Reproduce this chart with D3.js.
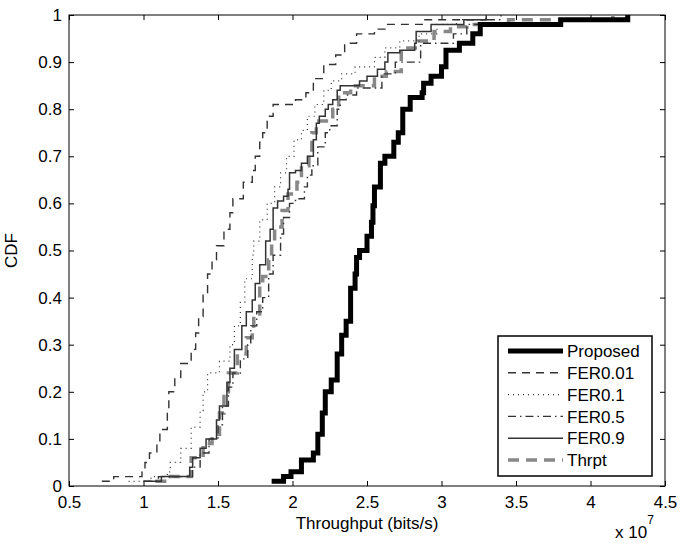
<!DOCTYPE html>
<html>
<head>
<meta charset="utf-8">
<script src="https://cdn.jsdelivr.net/npm/d3@7"></script>
<style>
  body { margin: 0; background: #fff; }
  text { font-family: "Liberation Sans", Arial, Helvetica, sans-serif; }
</style>
</head>
<body>
<div id="graph"></div>
<script>
// ---------------------------//
//       DATA                 //
// ---------------------------//
// x in units of 1e7 bits/s, y = CDF value (step points)
var proposed = [[1.86,0.01],[1.94,0.02],[1.99,0.03],[2.06,0.055],[2.14,0.07],[2.17,0.11],[2.20,0.155],[2.22,0.20],[2.26,0.225],[2.30,0.28],[2.33,0.32],[2.36,0.35],[2.39,0.42],[2.42,0.45],[2.43,0.485],[2.45,0.50],[2.50,0.53],[2.53,0.56],[2.54,0.595],[2.55,0.635],[2.59,0.685],[2.62,0.70],[2.68,0.73],[2.71,0.75],[2.74,0.80],[2.79,0.825],[2.87,0.835],[2.88,0.855],[2.93,0.87],[3.00,0.89],[3.03,0.925],[3.12,0.94],[3.21,0.96],[3.26,0.98],[3.80,0.99],[4.25,1.0]];

var fer001 = [[0.72,0.01],[0.80,0.02],[0.99,0.03],[1.01,0.05],[1.04,0.07],[1.09,0.09],[1.11,0.12],[1.16,0.16],[1.17,0.20],[1.21,0.23],[1.25,0.26],[1.32,0.29],[1.35,0.325],[1.37,0.36],[1.40,0.41],[1.43,0.45],[1.46,0.48],[1.49,0.51],[1.54,0.545],[1.58,0.58],[1.60,0.61],[1.67,0.645],[1.73,0.67],[1.75,0.70],[1.78,0.73],[1.80,0.75],[1.83,0.785],[1.87,0.81],[2.02,0.82],[2.09,0.835],[2.14,0.865],[2.21,0.895],[2.29,0.915],[2.35,0.94],[2.43,0.96],[2.55,0.97],[2.62,0.98],[2.88,0.99],[3.30,1.0]];

var fer01 = [[0.90,0.01],[1.05,0.02],[1.16,0.03],[1.18,0.05],[1.25,0.08],[1.32,0.125],[1.38,0.16],[1.40,0.20],[1.43,0.24],[1.51,0.265],[1.58,0.30],[1.61,0.34],[1.65,0.39],[1.68,0.44],[1.73,0.49],[1.74,0.52],[1.78,0.565],[1.83,0.60],[1.88,0.635],[1.92,0.665],[1.96,0.70],[2.01,0.735],[2.06,0.755],[2.10,0.785],[2.15,0.81],[2.21,0.84],[2.26,0.86],[2.33,0.875],[2.42,0.89],[2.55,0.91],[2.62,0.93],[2.72,0.945],[2.85,0.96],[2.97,0.98],[3.10,0.99],[3.30,1.0]];

var fer05 = [[1.00,0.01],[1.10,0.02],[1.33,0.04],[1.38,0.07],[1.44,0.10],[1.50,0.13],[1.53,0.17],[1.57,0.21],[1.60,0.24],[1.65,0.27],[1.70,0.30],[1.72,0.34],[1.76,0.37],[1.80,0.40],[1.84,0.45],[1.87,0.49],[1.92,0.535],[1.94,0.57],[1.98,0.60],[2.02,0.61],[2.08,0.635],[2.10,0.66],[2.13,0.68],[2.17,0.72],[2.22,0.75],[2.25,0.765],[2.30,0.80],[2.32,0.82],[2.36,0.83],[2.43,0.845],[2.60,0.875],[2.69,0.90],[2.86,0.94],[3.08,0.96],[3.17,0.98],[3.26,0.99],[3.40,1.0]];

var fer09 = [[1.00,0.01],[1.12,0.02],[1.31,0.04],[1.33,0.06],[1.38,0.08],[1.42,0.10],[1.49,0.14],[1.51,0.17],[1.56,0.22],[1.58,0.25],[1.61,0.29],[1.66,0.34],[1.69,0.37],[1.73,0.395],[1.75,0.43],[1.78,0.47],[1.82,0.52],[1.85,0.545],[1.87,0.59],[1.90,0.605],[1.94,0.615],[1.97,0.63],[1.98,0.665],[2.02,0.67],[2.06,0.685],[2.10,0.70],[2.14,0.735],[2.16,0.77],[2.18,0.785],[2.22,0.80],[2.24,0.81],[2.27,0.82],[2.30,0.84],[2.32,0.85],[2.45,0.86],[2.50,0.87],[2.57,0.885],[2.62,0.90],[2.64,0.92],[2.72,0.925],[2.82,0.94],[2.83,0.965],[2.93,0.98],[3.15,0.99],[3.30,1.0]];

var thrpt = [[1.08,0.01],[1.18,0.02],[1.32,0.06],[1.40,0.09],[1.46,0.11],[1.51,0.155],[1.54,0.20],[1.57,0.24],[1.63,0.28],[1.69,0.315],[1.73,0.33],[1.74,0.365],[1.78,0.43],[1.80,0.445],[1.84,0.48],[1.86,0.52],[1.88,0.55],[1.93,0.585],[1.97,0.62],[2.03,0.645],[2.06,0.68],[2.11,0.705],[2.13,0.75],[2.16,0.775],[2.27,0.80],[2.31,0.835],[2.39,0.85],[2.55,0.87],[2.63,0.88],[2.73,0.93],[2.84,0.945],[2.95,0.965],[3.06,0.975],[3.17,0.98],[3.45,0.99],[4.15,1.0]];

var seriesNames = ["Proposed", "FER0.01", "FER0.1", "FER0.5", "FER0.9", "Thrpt"];
var xTicks = [0.5, 1, 1.5, 2, 2.5, 3, 3.5, 4, 4.5];
var yTicks = [0, 0.1, 0.2, 0.3, 0.4, 0.5, 0.6, 0.7, 0.8, 0.9, 1];

// styles for each series (same order as seriesNames)
var allSeries = [proposed, fer001, fer01, fer05, fer09, thrpt];
var styles = [
    { color: "#000", width: 5, dash: null },
    { color: "#333", width: 1.4, dash: "8,6" },
    { color: "#333", width: 1.2, dash: "1,4" },
    { color: "#333", width: 1.4, dash: "8,4,1.5,4" },
    { color: "#333", width: 1.5, dash: null },
    { color: "#888", width: 3.5, dash: "11,7" }
];

// set the dimensions and margins of the graph
var margin = { top: 15, right: 17, bottom: 59, left: 69 },
    width = 682 - margin.left - margin.right,
    height = 545 - margin.top - margin.bottom;

var svg = d3.select("#graph")
    .append("svg")
    .attr("width", 682)
    .attr("height", 545)
    .append("g")
    .attr("transform", "translate(" + margin.left + "," + margin.top + ")");

// ---------------------------//
//       AXIS  AND SCALE      //
// ---------------------------//
var x = d3.scaleLinear().domain([0.5, 4.5]).range([0, width]);
var y = d3.scaleLinear().domain([0, 1]).range([height, 0]);

var fmt = function(d) { return d3.format("")(+d.toFixed(1)); };

svg.append("defs").append("clipPath").attr("id", "clip")
    .append("rect").attr("width", width).attr("height", height);

// bottom / top
svg.append("g")
    .attr("transform", "translate(0," + height + ")")
    .call(d3.axisBottom(x).tickValues(xTicks).tickSize(-5).tickPadding(10).tickFormat(fmt))
    .call(function(g) { g.select(".domain").remove(); });
svg.append("g")
    .call(d3.axisTop(x).tickValues(xTicks).tickSize(-5).tickFormat(""))
    .call(function(g) { g.select(".domain").remove(); });

// left / right
svg.append("g")
    .call(d3.axisLeft(y).tickValues(yTicks).tickSize(-5).tickPadding(7).tickFormat(fmt))
    .call(function(g) { g.select(".domain").remove(); });
svg.append("g")
    .attr("transform", "translate(" + width + ",0)")
    .call(d3.axisRight(y).tickValues(yTicks).tickSize(-5).tickFormat(""))
    .call(function(g) { g.select(".domain").remove(); });

svg.selectAll(".tick text")
    .style("font-size", "17px")
    .attr("fill", "#000");
svg.selectAll(".tick line").attr("stroke", "#000");

// box
svg.append("rect")
    .attr("width", width)
    .attr("height", height)
    .attr("fill", "none")
    .attr("stroke", "#000")
    .attr("stroke-width", 1);

// axis labels
svg.append("text")
    .attr("x", width / 2)
    .attr("y", height + 43)
    .attr("text-anchor", "middle")
    .style("font-size", "17px")
    .text("Throughput (bits/s)");

svg.append("text")
    .attr("transform", "translate(-52," + (height / 2) + ") rotate(-90)")
    .attr("text-anchor", "middle")
    .style("font-size", "17px")
    .text("CDF");

var expo = svg.append("text")
    .attr("x", 546)
    .attr("y", height + 52)
    .style("font-size", "17px");
expo.append("tspan").text("x 10");
expo.append("tspan").attr("dy", -14).style("font-size", "12px").text("7");

// ---------------------------//
//       LINES                //
// ---------------------------//
var line = d3.line()
    .x(function(d) { return x(d[0]); })
    .y(function(d) { return y(d[1]); })
    .curve(d3.curveStepAfter);

var plot = svg.append("g").attr("clip-path", "url(#clip)");

// draw in reverse so Proposed sits on top
for (var i = allSeries.length - 1; i >= 0; i--) {
    plot.append("path")
        .datum(allSeries[i])
        .attr("d", line)
        .attr("fill", "none")
        .attr("stroke", styles[i].color)
        .attr("stroke-width", styles[i].width)
        .attr("stroke-dasharray", styles[i].dash);
}

// ---------------------------//
//       LEGEND               //
// ---------------------------//
var legX = 498 - margin.left, legY = 336 - margin.top;
var legend = svg.append("g").attr("transform", "translate(" + legX + "," + legY + ")");

legend.append("rect")
    .attr("width", 154)
    .attr("height", 140)
    .attr("fill", "#fff")
    .attr("stroke", "#000")
    .attr("stroke-width", 1.5);

var rowH = 21.8;
legend.selectAll("legline")
    .data(seriesNames)
    .enter()
    .append("line")
    .attr("x1", 10)
    .attr("x2", 65)
    .attr("y1", function(d, i) { return 15 + i * rowH; })
    .attr("y2", function(d, i) { return 15 + i * rowH; })
    .attr("stroke", function(d, i) { return styles[i].color; })
    .attr("stroke-width", function(d, i) { return styles[i].width; })
    .attr("stroke-dasharray", function(d, i) { return styles[i].dash; });

legend.selectAll("leglabel")
    .data(seriesNames)
    .enter()
    .append("text")
    .attr("x", 69)
    .attr("y", function(d, i) { return 15 + i * rowH; })
    .attr("dy", "0.36em")
    .style("font-size", "17px")
    .text(function(d) { return d; });
</script>
</body>
</html>
